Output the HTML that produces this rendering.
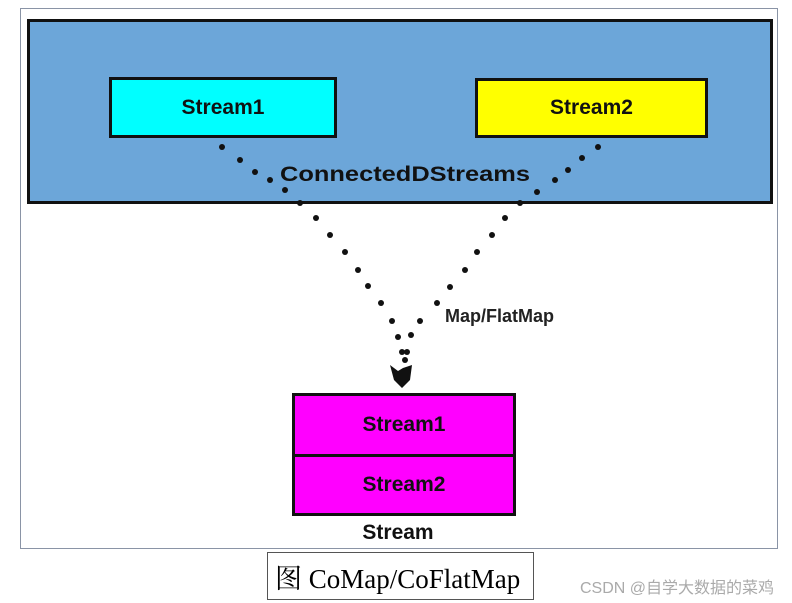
<!DOCTYPE html>
<html><head><style>
body{margin:0;width:792px;height:603px;background:#fff;position:relative;overflow:hidden;font-family:"Liberation Sans",sans-serif}
.a{position:absolute;box-sizing:border-box}
.t{font-weight:bold;font-size:21px;display:flex;align-items:center;justify-content:center;color:#111}
</style></head><body>
<div class="a" style="left:20px;top:8px;width:758px;height:541px;border:1px solid #8a94a6"></div>
<div class="a" style="left:27px;top:19px;width:746px;height:185px;background:#6ca6d9;border:3px solid #111"></div>
<div class="a t" style="left:109px;top:77px;width:228px;height:61px;background:#00ffff;border:3px solid #111">Stream1</div>
<div class="a t" style="left:475px;top:78px;width:233px;height:60px;background:#ffff00;border:3px solid #111">Stream2</div>
<svg class="a" style="left:0;top:0" width="792" height="603">
<g fill="#111">
<circle cx="222" cy="147" r="3"/><circle cx="240" cy="160" r="3"/><circle cx="255" cy="172" r="3"/><circle cx="270" cy="180" r="3"/><circle cx="285" cy="190" r="3"/><circle cx="300" cy="203" r="3"/><circle cx="316" cy="218" r="3"/><circle cx="330" cy="235" r="3"/><circle cx="345" cy="252" r="3"/><circle cx="358" cy="270" r="3"/><circle cx="368" cy="286" r="3"/><circle cx="381" cy="303" r="3"/><circle cx="392" cy="321" r="3"/><circle cx="398" cy="337" r="3"/><circle cx="402" cy="352" r="3"/>
<circle cx="598" cy="147" r="3"/><circle cx="582" cy="158" r="3"/><circle cx="568" cy="170" r="3"/><circle cx="555" cy="180" r="3"/><circle cx="537" cy="192" r="3"/><circle cx="520" cy="203" r="3"/><circle cx="505" cy="218" r="3"/><circle cx="492" cy="235" r="3"/><circle cx="477" cy="252" r="3"/><circle cx="465" cy="270" r="3"/><circle cx="450" cy="287" r="3"/><circle cx="437" cy="303" r="3"/><circle cx="420" cy="321" r="3"/><circle cx="411" cy="335" r="3"/><circle cx="407" cy="352" r="3"/><circle cx="405" cy="360" r="3"/>
<path d="M390 365 L398 371 L403 368 L412 365 L410 380 L402 388 L394 380 Z"/>
</g>
<rect x="278" y="163" width="254" height="22" fill="#6ca6d9"/>
<text x="405" y="181" font-size="21" font-weight="bold" text-anchor="middle" font-family="Liberation Sans" fill="#111" textLength="250" lengthAdjust="spacingAndGlyphs">ConnectedDStreams</text>
</svg>
<div class="a" style="left:445px;top:306px;font-size:18px;font-weight:bold;color:#222">Map/FlatMap</div>
<div class="a t" style="left:292px;top:393px;width:224px;height:64px;background:#ff00ff;border:3px solid #111">Stream1</div>
<div class="a t" style="left:292px;top:454px;width:224px;height:62px;background:#ff00ff;border:3px solid #111">Stream2</div>
<div class="a t" style="left:292px;top:520px;width:212px;height:26px">Stream</div>
<div class="a" style="left:267px;top:552px;width:267px;height:48px;border:1px solid #555;font-family:'Liberation Serif','Noto Serif CJK SC',serif;font-size:27px;display:flex;align-items:center;padding-left:7px;white-space:nowrap">图&nbsp;CoMap/CoFlatMap</div>
<div class="a" style="left:580px;top:574px;font-size:16px;color:#aaa;font-family:'Liberation Sans','Noto Sans CJK SC',sans-serif;white-space:nowrap">CSDN @自学大数据的菜鸡</div>
</body></html>
